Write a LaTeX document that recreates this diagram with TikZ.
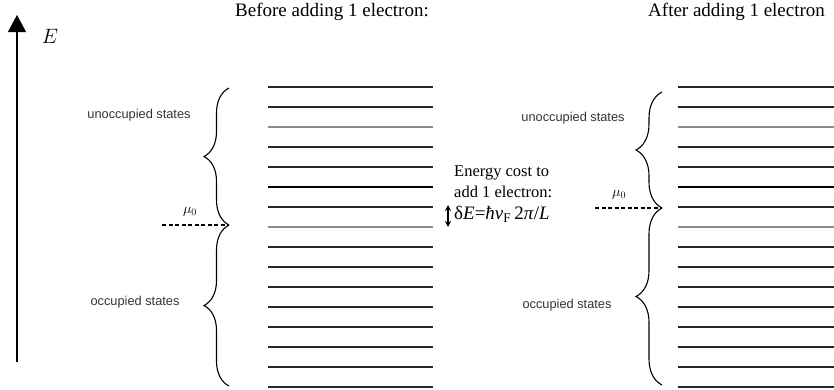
\documentclass[tikz,border=0pt]{standalone}
\usepackage{fontspec}
\setmainfont{Liberation Serif}
\newfontfamily\lsans{Liberation Sans}
\usetikzlibrary{arrows.meta,decorations.pathreplacing}
\begin{document}
\begin{tikzpicture}[x=1pt,y=-1pt,
  level/.style={line width=1.3pt,black!85},
  lightlevel/.style={line width=1.2pt,black!45},
  darklevel/.style={line width=1.4pt,black},
  bracestyle/.style={decorate,decoration={brace,amplitude=#1},line width=1.1pt},
  lbl/.style={font=\lsans\fontsize{12.8}{14}\selectfont,text=black!80,inner sep=0pt},
  ttl/.style={font=\fontsize{19}{22}\selectfont,inner sep=0pt,anchor=west},
  note/.style={font=\fontsize{16.5}{18}\selectfont,inner sep=0pt,anchor=west},
  mu/.style={font=\fontsize{14}{16}\selectfont,inner sep=0pt},
  fermi/.style={line width=1.2pt,dash pattern=on 4pt off 2.5pt},
]
\useasboundingbox (0,0) rectangle (834,389);

% energy axis
\coordinate (axb) at (17,362);
\coordinate (axt) at (17,15);
\draw[line width=1.2pt,-{Triangle[width=18pt,length=17pt]}] (axb) -- (axt);
\node[font=\fontsize{20}{22}\selectfont,inner sep=0pt] (E) at (50,36) {$E$};

% titles
\node[ttl] (before) at (235,12) {Before adding 1 electron:};
\node[ttl] (after) at (648,12) {After adding 1 electron};

% levels
\foreach \i in {0,...,15}{
  \pgfmathsetmacro{\yy}{87+20*\i}
  \ifnum\i=2 \def\st{lightlevel}\else\ifnum\i=7 \def\st{lightlevel}\else\ifnum\i=5 \def\st{darklevel}\else\def\st{level}\fi\fi\fi
  \coordinate (la\i) at (268,\yy);
  \coordinate (lb\i) at (433,\yy);
  \coordinate (ra\i) at (678,\yy);
  \coordinate (rb\i) at (840,\yy);
  \draw[\st] (la\i) -- (lb\i);
  \draw[\st] (ra\i) -- (rb\i);
}

% left braces and chemical potential
\coordinate (lt) at (229,88);
\coordinate (lm) at (229,225);
\coordinate (lbot) at (229,386);
\coordinate (ldash) at (162,225);
\draw[bracestyle=25pt] (lm) -- (lt);
\draw[bracestyle=25pt] (lbot) -- (lm);
\draw[fermi] (ldash) -- (lm);
\node[mu] (mul) at (190,212) {$\mu_0$};
\node[lbl] (unoccl) at (139,115) {unoccupied states};
\node[lbl] (occl) at (135,302) {occupied states};

% right braces and chemical potential
\coordinate (rt) at (662,92);
\coordinate (rm) at (662,208);
\coordinate (rbot) at (662,385);
\coordinate (rdash) at (595,208);
\draw[bracestyle=26pt] (rm) -- (rt);
\draw[bracestyle=26pt] (rbot) -- (rm);
\draw[fermi] (rdash) -- (rm);
\node[mu] (mur) at (619,195) {$\mu_0$};
\node[lbl] (unoccr) at (573,118) {unoccupied states};
\node[lbl] (occr) at (567,305) {occupied states};

% energy cost note
\node[note] (n1) at (454,173) {Energy cost to};
\node[note] (n2) at (454,192) {add 1 electron:};
\node[note,font=\fontsize{19}{20}\selectfont] (n3) at (454,214) {δ\textit{E}=\textit{ħv}\textsubscript{F}\,2\textit{π}/\textit{L}};
\coordinate (da) at (448,205);
\coordinate (db) at (448,227);
\draw[line width=1.3pt,{Stealth[length=6pt,width=6pt]}-{Stealth[length=6pt,width=6pt]}] (da) -- (db);
\end{tikzpicture}
\end{document}
